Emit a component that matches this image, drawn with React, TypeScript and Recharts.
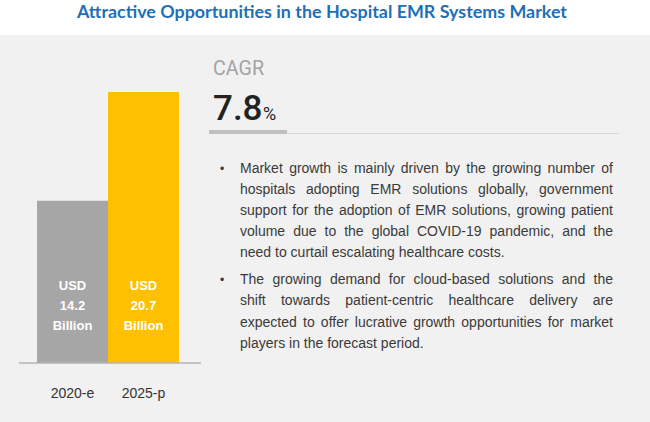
import { BarChart, Bar, Cell, XAxis, YAxis } from 'recharts';

// market size, USD billion
const years = ['2020-e', '2025-p'];
const marketSize = [14.2, 20.7];
const barColors = ['#a6a6a6', '#ffc000'];
const cagrValue = '7.8';

const title = 'Attractive Opportunities in the Hospital EMR Systems Market';

const bulletOne = [
  'Market growth is mainly driven by the growing number of',
  'hospitals adopting EMR solutions globally, government',
  'support for the adoption of EMR solutions, growing patient',
  'volume due to the global COVID-19 pandemic, and the',
  'need to curtail escalating healthcare costs.',
];
const bulletTwo = [
  'The growing demand for cloud-based solutions and the',
  'shift towards patient-centric healthcare delivery are',
  'expected to offer lucrative growth opportunities for market',
  'players in the forecast period.',
];

const data = years.map((year, i) => ({ year, value: marketSize[i] }));

const TEXT_FONT_SIZE = 14;
const TEXT_FONT = `${TEXT_FONT_SIZE}px "Liberation Sans"`;
const LINE_WIDTH = 373;
const LINE_STEP = 21.1;

let ctx: CanvasRenderingContext2D | null = null;
const measure = (s: string) => {
  if (!ctx) ctx = document.createElement('canvas').getContext('2d');
  if (!ctx) return LINE_WIDTH;
  ctx.font = TEXT_FONT;
  return ctx.measureText(s).width;
};

// labels sit near the bottom of each bar
const renderBarLabel = (props: any) => {
  const { x, y, width, height, value } = props;
  const cx = x + width / 2;
  const bottom = y + height;
  const style = {
    fill: '#ffffff',
    fontSize: 13,
    fontWeight: 700,
    fontFamily: '"Liberation Sans", Arial, sans-serif',
  };
  return (
    <g>
      <text x={cx} y={bottom - 73} textAnchor="middle" style={style}>USD</text>
      <text x={cx} y={bottom - 53} textAnchor="middle" style={style}>{value}</text>
      <text x={cx} y={bottom - 33} textAnchor="middle" style={style}>Billion</text>
    </g>
  );
};

const renderTick = (props: any) => {
  const { x, y, payload } = props;
  return (
    <text
      x={x}
      y={y + 27}
      textAnchor="middle"
      style={{ fill: '#333', fontSize: 14, fontFamily: '"Liberation Sans", Arial, sans-serif' }}
    >
      {payload.value}
    </text>
  );
};

function Paragraph({ lines, top }: { lines: string[]; top: number }) {
  return (
    <g>
      <text x={220} y={top} style={{ fill: '#333', fontSize: 12, fontFamily: 'Arial' }}>•</text>
      {lines.map((line, i) => {
        const last = i === lines.length - 1;
        const gaps = line.split(' ').length - 1;
        const ws = last ? 0 : (LINE_WIDTH - measure(line)) / gaps;
        return (
          <text
            key={i}
            x={240}
            y={top + i * LINE_STEP}
            style={{
              fill: '#3a3a3a',
              fontSize: TEXT_FONT_SIZE,
              fontFamily: '"Liberation Sans"',
              wordSpacing: ws,
            }}
          >
            {line}
          </text>
        );
      })}
    </g>
  );
}

export default function App() {
  return (
    <div style={{ position: 'absolute', left: 0, top: 0, width: 650, height: 422, background: '#fff', overflow: 'hidden' }}>
      <div style={{ position: 'absolute', left: 0, top: 35, width: 650, height: 387, background: '#f1f1f1' }} />

      <div style={{ position: 'absolute', left: 0, top: 0 }}>
        <BarChart
          width={220}
          height={422}
          data={data}
          margin={{ top: 92, right: 19, left: 19, bottom: 29 }}
          barCategoryGap={0}
        >
          <XAxis
            dataKey="year"
            height={30}
            padding={{ left: 18, right: 22 }}
            axisLine={{ stroke: '#b3b3b3', strokeWidth: 1.3 }}
            tickLine={false}
            tick={renderTick}
          />
          <YAxis hide type="number" domain={[4.5, 20.7]} />
          <Bar dataKey="value" isAnimationActive={false} label={renderBarLabel}>
            {data.map((entry, index) => (
              <Cell key={`cell-${index}`} fill={barColors[index]} />
            ))}
          </Bar>
        </BarChart>
      </div>

      <svg width={650} height={422} style={{ position: 'absolute', left: 0, top: 0, pointerEvents: 'none' }}>
        <text
          x={322}
          y={18}
          textAnchor="middle"
          textLength={490}
          lengthAdjust="spacingAndGlyphs"
          style={{ fill: '#1f6fb4', fontSize: 16.5, fontWeight: 700, fontFamily: 'Lato' }}
        >
          {title}
        </text>

        <text
          x={213}
          y={75}
          textLength={51}
          lengthAdjust="spacingAndGlyphs"
          style={{ fill: '#a3a3a3', fontSize: 21, fontFamily: 'Roboto' }}
        >
          CAGR
        </text>
        <text x={213} y={120} style={{ fill: '#222', fontSize: 35, fontWeight: 500, fontFamily: 'Roboto' }}>
          {cagrValue}
        </text>
        <text x={263} y={120} style={{ fill: '#222', fontSize: 18, fontFamily: 'Roboto' }}>%</text>
        <rect x={209} y={130} width={78} height={4} fill="#bfbfbf" />
        <line x1={287} x2={619} y1={133.5} y2={133.5} stroke="#d6d6d6" strokeWidth={1} />

        <Paragraph lines={bulletOne} top={173} />
        <Paragraph lines={bulletTwo} top={284.3} />
      </svg>
    </div>
  );
}
